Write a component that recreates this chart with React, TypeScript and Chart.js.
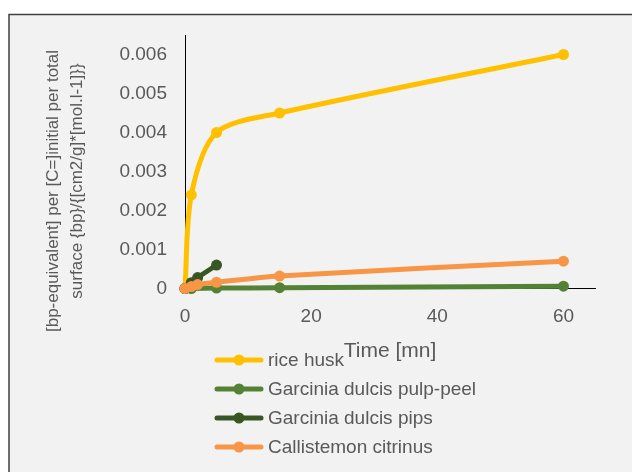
import React, { useEffect, useRef } from "react";
import { Chart, registerables } from "chart.js";

Chart.register(...registerables);

// ---- data ----
const riceHuskTime = [0, 1, 5, 15, 60];
const riceHuskValues = [0, 0.0024, 0.004, 0.0045, 0.006];
const pulpPeelTime = [0, 1, 5, 15, 60];
const pulpPeelValues = [0, 0, 0.00001, 0.00002, 0.00006];
const pipsTime = [0, 1, 2, 5];
const pipsValues = [0, 0.00015, 0.00028, 0.0006];
const callistemonTime = [0, 1, 2, 5, 15, 60];
const callistemonValues = [0, 0.00005, 0.0001, 0.00016, 0.00032, 0.0007];

const seriesNames = [
  "rice husk",
  "Garcinia dulcis pulp-peel",
  "Garcinia dulcis pips",
  "Callistemon citrinus",
];
const seriesColors = ["#FFC000", "#548235", "#375623", "#F79646"];

const xTickValues = [0, 20, 40, 60];
const yTickValues = [0, 0.001, 0.002, 0.003, 0.004, 0.005, 0.006];
const xAxisMax = 65;
const yAxisMax = 0.0065;

const xTitle = "Time [mn]";
const yTitleLines = [
  "[bp-equivalent] per [C=]initial per total",
  "surface {bp}/{[cm2/g]*[mol.l-1]}}",
];

const FONT = "'Liberation Sans', Arial, sans-serif";
const TEXT_COLOR = "#595959";

const toPoints = (xs: number[], ys: number[]) => xs.map((x, i) => ({ x, y: ys[i] }));

const decorPlugin = {
  id: "decor",
  beforeDraw(chart: any) {
    const ctx = chart.ctx;
    const w = chart.width;
    const h = chart.height;
    ctx.save();
    ctx.fillStyle = "#ffffff";
    ctx.fillRect(0, 0, w, h);
    ctx.fillStyle = "#f2f2f2";
    ctx.fillRect(9, 14.5, w, h);
    ctx.strokeStyle = "#404040";
    ctx.lineWidth = 1.5;
    ctx.beginPath();
    ctx.moveTo(9, h);
    ctx.lineTo(9, 14.5);
    ctx.lineTo(w, 14.5);
    ctx.stroke();
    ctx.restore();
  },
  afterDraw(chart: any) {
    const ctx = chart.ctx;
    const area = chart.chartArea;
    ctx.save();
    // y title (two rotated lines)
    ctx.fillStyle = TEXT_COLOR;
    ctx.font = `17px ${FONT}`;
    ctx.textAlign = "center";
    ctx.textBaseline = "middle";
    const yCenters = [191, 181];
    const xCenters = [53, 77];
    yTitleLines.forEach((line, i) => {
      ctx.save();
      ctx.translate(xCenters[i], yCenters[i]);
      ctx.rotate(-Math.PI / 2);
      ctx.fillText(line, 0, 0);
      ctx.restore();
    });
    // x title
    ctx.font = `21px ${FONT}`;
    ctx.fillText(xTitle, (area.left + area.right) / 2, 351);

    // legend
    const legendTop = 360;
    const legendStep = 29;
    ctx.font = `19px ${FONT}`;
    ctx.textAlign = "left";
    chart.data.datasets.forEach((ds: any, i: number) => {
      const y = legendTop + i * legendStep;
      ctx.strokeStyle = ds.borderColor;
      ctx.lineWidth = 5;
      ctx.lineCap = "round";
      ctx.beginPath();
      ctx.moveTo(217, y);
      ctx.lineTo(261, y);
      ctx.stroke();
      ctx.fillStyle = ds.borderColor;
      ctx.beginPath();
      ctx.arc(239, y, 5.5, 0, Math.PI * 2);
      ctx.fill();
      ctx.fillStyle = TEXT_COLOR;
      ctx.fillText(ds.label, 268, y + 1);
    });
    ctx.restore();
  },
};

export default function App() {
  const canvasRef = useRef<HTMLCanvasElement | null>(null);

  useEffect(() => {
    if (!canvasRef.current) return;
    const seriesData = [
      toPoints(riceHuskTime, riceHuskValues),
      toPoints(pulpPeelTime, pulpPeelValues),
      toPoints(pipsTime, pipsValues),
      toPoints(callistemonTime, callistemonValues),
    ];
    const chart = new Chart(canvasRef.current, {
      type: "line",
      data: {
        datasets: seriesData.map((d, i) => ({
          label: seriesNames[i],
          data: d,
          borderColor: seriesColors[i],
          backgroundColor: seriesColors[i],
          pointBackgroundColor: seriesColors[i],
          pointBorderColor: seriesColors[i],
          borderWidth: 5,
          pointRadius: 5.5,
          pointBorderWidth: 0,
          tension: 0.3,
          fill: false,
          clip: false as any,
          order: seriesNames.length - i,
        })),
      },
      options: {
        animation: false,
        responsive: false,
        devicePixelRatio: 1,
        layout: { padding: { left: 0, top: 35, right: 37, bottom: 143.5 } },
        plugins: {
          legend: { display: false },
          tooltip: { enabled: false },
        },
        scales: {
          x: {
            type: "linear",
            min: 0,
            max: xAxisMax,
            grid: { display: false, drawTicks: false },
            border: { display: true, color: "#000000", width: 1 },
            afterBuildTicks: (scale: any) => {
              scale.ticks = xTickValues.map((v) => ({ value: v }));
            },
            afterFit: (scale: any) => {
              scale.height = 40;
            },
            ticks: {
              color: TEXT_COLOR,
              font: { family: FONT, size: 19 },
              padding: 17,
              maxRotation: 0,
              callback: (v: any) => String(v),
            },
          },
          y: {
            type: "linear",
            min: 0,
            max: yAxisMax,
            grid: { display: false, drawTicks: false },
            border: { display: true, color: "#000000", width: 1 },
            afterBuildTicks: (scale: any) => {
              scale.ticks = yTickValues.map((v) => ({ value: v }));
            },
            afterFit: (scale: any) => {
              scale.width = 185;
            },
            ticks: {
              color: TEXT_COLOR,
              font: { family: FONT, size: 19 },
              padding: 18,
              callback: (v: any) => String(Number(Number(v).toFixed(4))),
            },
          },
        },
      },
      plugins: [decorPlugin],
    });
    return () => chart.destroy();
  }, []);

  return (
    <div style={{ position: "fixed", left: 0, top: 0, width: 632, height: 472, background: "#ffffff" }}>
      <canvas ref={canvasRef} width={632} height={472} style={{ display: "block" }} />
    </div>
  );
}
